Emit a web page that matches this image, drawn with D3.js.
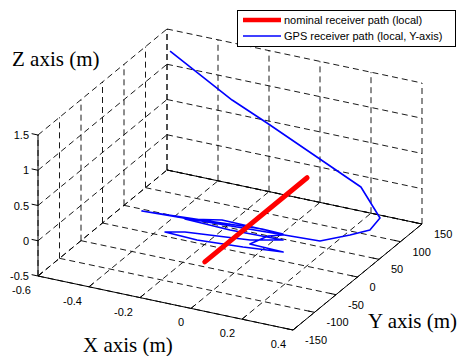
<!DOCTYPE html>
<html>
<head>
<meta charset="utf-8">
<script src="https://cdn.jsdelivr.net/npm/d3@7"></script>
<style>
  body { margin: 0; background: #fff; }
  svg { display: block; }
</style>
</head>
<body>
<div id="chart"></div>
<script>
// axis ticks
const xTicks = [-0.6, -0.4, -0.2, 0, 0.2, 0.4];
const yTicks = [-150, -100, -50, 0, 50, 100, 150];
const zTicks = [-0.5, 0, 0.5, 1, 1.5];

// nominal receiver path (local)
const nomX = [0, 0];
const nomY = [-118, 120];
const nomZ = [0, 0];

// GPS receiver path (local, Y-axis)
const gpsX = [-0.587, -0.288, -0.132, 0.283, 0.380, 0.394, 0.351, 0.280, -0.389, 0.054, 0.138,
  -0.105, -0.224, -0.042, 0.161, 0.058, -0.175, -0.237, -0.107, 0.063, 0.207, 0.073, 0.099, 0.142];
const gpsY = [149.5, 116.4, 105.1, 77.3, 64.2, 32.4, 11.6, -16.2, -33.5, -16.8, -18.1,
  -15.6, -31.1, -34.3, -31.6, -47.3, -60.3, -69.8, -72.5, -66.4, -58.6, -56.3, -29.7, -20.4];
const gpsZ = [1.2, 0.9, 0.75, 0.3, 0, 0, 0, 0, 0, 0, 0,
  0, 0, 0, 0, 0, 0, 0, 0, 0, 0, 0, 0, 0];

const width = 458, height = 356;

// projection of the 3D box: origin at (x=-0.6, y=-150, z=-0.5)
const O = [38, 276], EX = [255, 54], EY = [129, -106], EZ = [0, -141];
const xs = d3.scaleLinear().domain([-0.6, 0.4]).range([0, 1]);
const ys = d3.scaleLinear().domain([-150, 150]).range([0, 1]);
const zs = d3.scaleLinear().domain([-0.5, 1.5]).range([0, 1]);

function proj(x, y, z) {
  const u = xs(x), v = ys(y), w = zs(z);
  return [O[0] + EX[0] * u + EY[0] * v + EZ[0] * w,
          O[1] + EX[1] * u + EY[1] * v + EZ[1] * w];
}

const x0 = -0.6, x1 = 0.4, y0 = -150, y1 = 150, z0 = -0.5, z1 = 1.5;

const svg = d3.select('#chart').append('svg')
  .attr('width', width)
  .attr('height', height);

svg.append('rect').attr('width', width).attr('height', height).attr('fill', '#fff');

const line = d3.line();

// grid lines
const grid = [];
xTicks.forEach(x => {
  grid.push([proj(x, y0, z0), proj(x, y1, z0)]);   // floor
  grid.push([proj(x, y1, z0), proj(x, y1, z1)]);   // back wall y=150
});
yTicks.forEach(y => {
  grid.push([proj(x0, y, z0), proj(x1, y, z0)]);   // floor
  grid.push([proj(x0, y, z0), proj(x0, y, z1)]);   // back wall x=-0.6
});
zTicks.forEach(z => {
  grid.push([proj(x0, y0, z), proj(x0, y1, z)]);
  grid.push([proj(x0, y1, z), proj(x1, y1, z)]);
});

svg.append('g').selectAll('path')
  .data(grid)
  .enter()
  .append('path')
  .attr('d', d => line(d))
  .attr('fill', 'none')
  .attr('stroke', '#000')
  .attr('stroke-width', 0.9)
  .attr('stroke-dasharray', '6,4');

// solid axis lines
const axes = [
  [proj(x0, y0, z0), proj(x1, y0, z0)],
  [proj(x1, y0, z0), proj(x1, y1, z0)],
  [proj(x0, y0, z0), proj(x0, y0, z1)],
  [proj(x0, y1, z0), proj(x1, y1, z0)]
];
svg.append('g').selectAll('path')
  .data(axes)
  .enter()
  .append('path')
  .attr('d', d => line(d))
  .attr('stroke', '#000')
  .attr('stroke-width', 1);

// tick marks
const ticks = [];
xTicks.forEach(x => ticks.push([proj(x, y0, z0), proj(x, y0 + 11, z0)]));
yTicks.forEach(y => ticks.push([proj(x1, y, z0), proj(x1 - 0.025, y, z0)]));
zTicks.forEach(z => ticks.push([proj(x0, y0, z), proj(x0 - 0.025, y0, z)]));
svg.append('g').selectAll('path')
  .data(ticks)
  .enter()
  .append('path')
  .attr('d', d => line(d))
  .attr('stroke', '#000')
  .attr('stroke-width', 1);

// tick labels
const tickFont = 'Liberation Sans, Arial, sans-serif';
svg.append('g').selectAll('text')
  .data(xTicks)
  .enter()
  .append('text')
  .attr('x', d => proj(d, y0, z0)[0] - 7)
  .attr('y', d => proj(d, y0, z0)[1] + 18)
  .attr('text-anchor', 'end')
  .attr('font-family', tickFont)
  .attr('font-size', '11px')
  .text(d => d);

svg.append('g').selectAll('text')
  .data(yTicks)
  .enter()
  .append('text')
  .attr('x', d => proj(x1, d, z0)[0] + 12)
  .attr('y', d => proj(x1, d, z0)[1] + 14)
  .attr('font-family', tickFont)
  .attr('font-size', '11px')
  .text(d => d);

svg.append('g').selectAll('text')
  .data(zTicks)
  .enter()
  .append('text')
  .attr('x', d => proj(x0, y0, d)[0] - 9)
  .attr('y', d => proj(x0, y0, d)[1] + 4)
  .attr('text-anchor', 'end')
  .attr('font-family', tickFont)
  .attr('font-size', '11px')
  .text(d => d);

// axis titles
const titleFont = 'Liberation Serif, Times New Roman, serif';
const titles = [
  { t: 'Z axis (m)', x: 12, y: 66 },
  { t: 'X axis (m)', x: 83, y: 352 },
  { t: 'Y axis (m)', x: 368, y: 328 }
];
svg.append('g').selectAll('text')
  .data(titles)
  .enter()
  .append('text')
  .attr('x', d => d.x)
  .attr('y', d => d.y)
  .attr('font-family', titleFont)
  .attr('font-size', '21px')
  .text(d => d.t);

// data
const gpsPts = gpsX.map((x, i) => proj(x, gpsY[i], gpsZ[i]));
svg.append('path')
  .attr('d', line(gpsPts))
  .attr('fill', 'none')
  .attr('stroke', '#0000ff')
  .attr('stroke-width', 1.6)
  .attr('stroke-linejoin', 'round');

const nomPts = nomX.map((x, i) => proj(x, nomY[i], nomZ[i]));
svg.append('path')
  .attr('d', line(nomPts))
  .attr('fill', 'none')
  .attr('stroke', '#ff0000')
  .attr('stroke-width', 5)
  .attr('stroke-linecap', 'round');

// legend
const legend = svg.append('g');
legend.append('rect')
  .attr('x', 237.5).attr('y', 10.5)
  .attr('width', 218).attr('height', 36)
  .attr('fill', '#fff')
  .attr('stroke', '#000')
  .attr('stroke-width', 1);
const legItems = [
  { label: 'nominal receiver path (local)', color: '#ff0000', w: 4.5, y: 20 },
  { label: 'GPS receiver path (local, Y-axis)', color: '#0000ff', w: 1.6, y: 36 }
];
legItems.forEach(d => {
  legend.append('line')
    .attr('x1', 243).attr('x2', 281)
    .attr('y1', d.y).attr('y2', d.y)
    .attr('stroke', d.color)
    .attr('stroke-width', d.w);
  legend.append('text')
    .attr('x', 284).attr('y', d.y + 4)
    .attr('font-family', tickFont)
    .attr('font-size', '11px')
    .text(d.label);
});
</script>
</body>
</html>
